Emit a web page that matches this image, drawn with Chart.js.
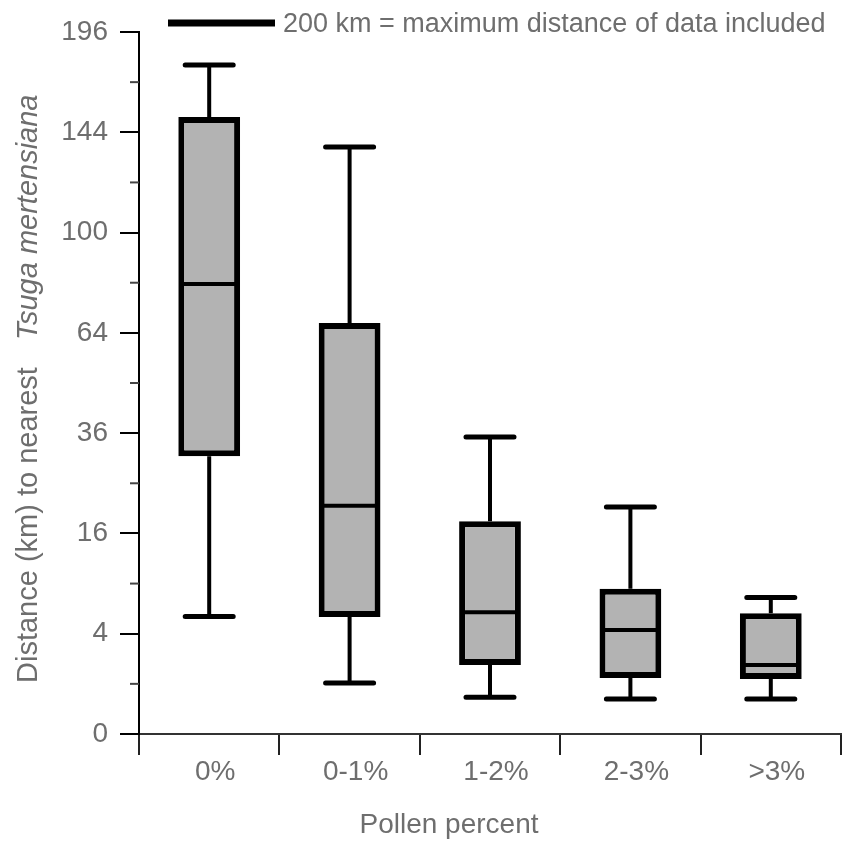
<!DOCTYPE html>
<html>
<head>
<meta charset="utf-8">
<script src="https://cdn.jsdelivr.net/npm/chart.js@4"></script>
<style>
  html, body { margin: 0; padding: 0; background: #fff; }
  #wrap { width: 846px; height: 842px; }
</style>
</head>
<body>
<div id="wrap"><canvas id="chart-js" width="846" height="842"></canvas></div>
<script>
// values in km
const categories = ["0%", "0-1%", "1-2%", "2-3%", ">3%"];
const whiskerHigh = [178, 137, 35.1, 20.5, 7.4];
const upperQuartile = [151.4, 67.2, 18.0, 8.4, 5.8];
const medians = [80.5, 20.7, 5.9, 4.3, 1.9];
const lowerQuartile = [30.7, 5.45, 1.89, 1.25, 1.2];
const whiskerLow = [5.5, 1.03, 0.54, 0.49, 0.49];
const yTickLabels = [0, 4, 16, 36, 64, 100, 144, 196];

const FONT = '"Liberation Sans", Arial, sans-serif';
const TEXT = "#6e6e6e";

// square-root axis: 0, 4, 16 ... are evenly spaced
class SqrtScale extends Chart.LinearScale {
  static id = "sqrt";
  static defaults = Chart.LinearScale.defaults;

  buildTicks() {
    const ticks = [];
    const top = Math.sqrt(this.max);
    for (let i = 0; i <= top; i++) {
      ticks.push({ value: i * i });
    }
    return ticks;
  }

  getPixelForValue(value) {
    return this.getPixelForDecimal(Math.sqrt(Math.max(value, 0)) / Math.sqrt(this.max));
  }

  getValueForPixel(pixel) {
    const s = this.getDecimalForPixel(pixel) * Math.sqrt(this.max);
    return s * s;
  }
}
Chart.register(SqrtScale);

const isMajor = (v) => yTickLabels.includes(v);

const boxPlot = {
  id: "boxPlot",
  beforeDatasetsDraw(chart) {
    const { ctx } = chart;
    const y = chart.scales.y;
    const bars = chart.getDatasetMeta(0).data;
    ctx.save();
    ctx.strokeStyle = "#000";
    bars.forEach((bar, i) => {
      const x = bar.x;
      const hi = y.getPixelForValue(whiskerHigh[i]);
      const lo = y.getPixelForValue(whiskerLow[i]);
      ctx.lineWidth = 4;
      ctx.lineCap = "butt";
      ctx.beginPath();
      ctx.moveTo(x, hi);
      ctx.lineTo(x, y.getPixelForValue(upperQuartile[i]));
      ctx.moveTo(x, lo);
      ctx.lineTo(x, y.getPixelForValue(lowerQuartile[i]));
      ctx.stroke();
      ctx.lineWidth = 5;
      ctx.lineCap = "round";
      ctx.beginPath();
      ctx.moveTo(x - 24, hi);
      ctx.lineTo(x + 24, hi);
      ctx.moveTo(x - 24, lo);
      ctx.lineTo(x + 24, lo);
      ctx.stroke();
    });
    ctx.restore();
  },
  afterDatasetsDraw(chart) {
    const { ctx } = chart;
    const y = chart.scales.y;
    const bars = chart.getDatasetMeta(0).data;
    ctx.save();
    ctx.strokeStyle = "#000";
    ctx.lineWidth = 4;
    bars.forEach((bar, i) => {
      const m = y.getPixelForValue(medians[i]);
      ctx.beginPath();
      ctx.moveTo(bar.x - bar.width / 2 + 3, m);
      ctx.lineTo(bar.x + bar.width / 2 - 3, m);
      ctx.stroke();
    });
    ctx.restore();
  },
  afterDraw(chart) {
    const { ctx, chartArea } = chart;
    const y = chart.scales.y;
    ctx.save();

    // minor ticks
    ctx.strokeStyle = "#444";
    ctx.lineWidth = 2;
    y.ticks.forEach((t) => {
      if (isMajor(t.value)) return;
      const p = y.getPixelForValue(t.value);
      ctx.beginPath();
      ctx.moveTo(chartArea.left - 9, p);
      ctx.lineTo(chartArea.left, p);
      ctx.stroke();
    });

    // key at the top
    ctx.strokeStyle = "#000";
    ctx.lineWidth = 7;
    ctx.beginPath();
    ctx.moveTo(168, 23);
    ctx.lineTo(275, 23);
    ctx.stroke();
    ctx.fillStyle = TEXT;
    ctx.font = "27px " + FONT;
    ctx.textAlign = "left";
    ctx.textBaseline = "alphabetic";
    ctx.fillText("200 km = maximum distance of data included", 283, 32);

    // x title
    ctx.font = "28px " + FONT;
    ctx.textAlign = "center";
    ctx.fillText("Pollen percent", 449, 833);

    // y title, species name in italics
    ctx.translate(37, 683);
    ctx.rotate(-Math.PI / 2);
    ctx.textAlign = "left";
    ctx.font = "29px " + FONT;
    const first = "Distance (km) to nearest";
    ctx.fillText(first, 0, 0);
    const w = ctx.measureText(first).width;
    ctx.font = "italic 29px " + FONT;
    ctx.fillText("Tsuga mertensiana", w + 27, 0);

    ctx.restore();
  }
};

new Chart(document.getElementById("chart-js"), {
  type: "bar",
  data: {
    labels: categories,
    datasets: [
      {
        data: categories.map((c, i) => [lowerQuartile[i], upperQuartile[i]]),
        backgroundColor: "#b3b3b3",
        borderColor: "#000",
        borderWidth: 6,
        borderSkipped: false,
        barPercentage: 0.44,
        categoryPercentage: 1
      }
    ]
  },
  options: {
    responsive: false,
    animation: false,
    layout: { padding: { top: 32, right: 5, left: 0, bottom: 0 } },
    plugins: {
      legend: { display: false },
      tooltip: { enabled: false }
    },
    scales: {
      x: {
        offset: true,
        afterFit: (s) => { s.height = 108; },
        grid: {
          offset: true,
          drawOnChartArea: false,
          tickLength: 21,
          color: "#222",
          lineWidth: 2
        },
        border: { color: "#333", width: 2 },
        ticks: {
          color: TEXT,
          font: { family: FONT, size: 28 },
          padding: 0,
          labelOffset: 6,
          autoSkip: false,
          maxRotation: 0
        }
      },
      y: {
        type: "sqrt",
        min: 0,
        max: 196,
        afterFit: (s) => { s.width = 139; },
        grid: {
          drawOnChartArea: false,
          tickLength: 19,
          lineWidth: 2,
          color: (c) => (c.tick && isMajor(c.tick.value) ? "#000" : "rgba(0,0,0,0)")
        },
        border: { color: "#000", width: 2 },
        ticks: {
          color: TEXT,
          font: { family: FONT, size: 28 },
          padding: 12,
          autoSkip: false,
          callback: (v) => (isMajor(v) ? String(v) : "")
        }
      }
    }
  },
  plugins: [boxPlot]
});
</script>
</body>
</html>
